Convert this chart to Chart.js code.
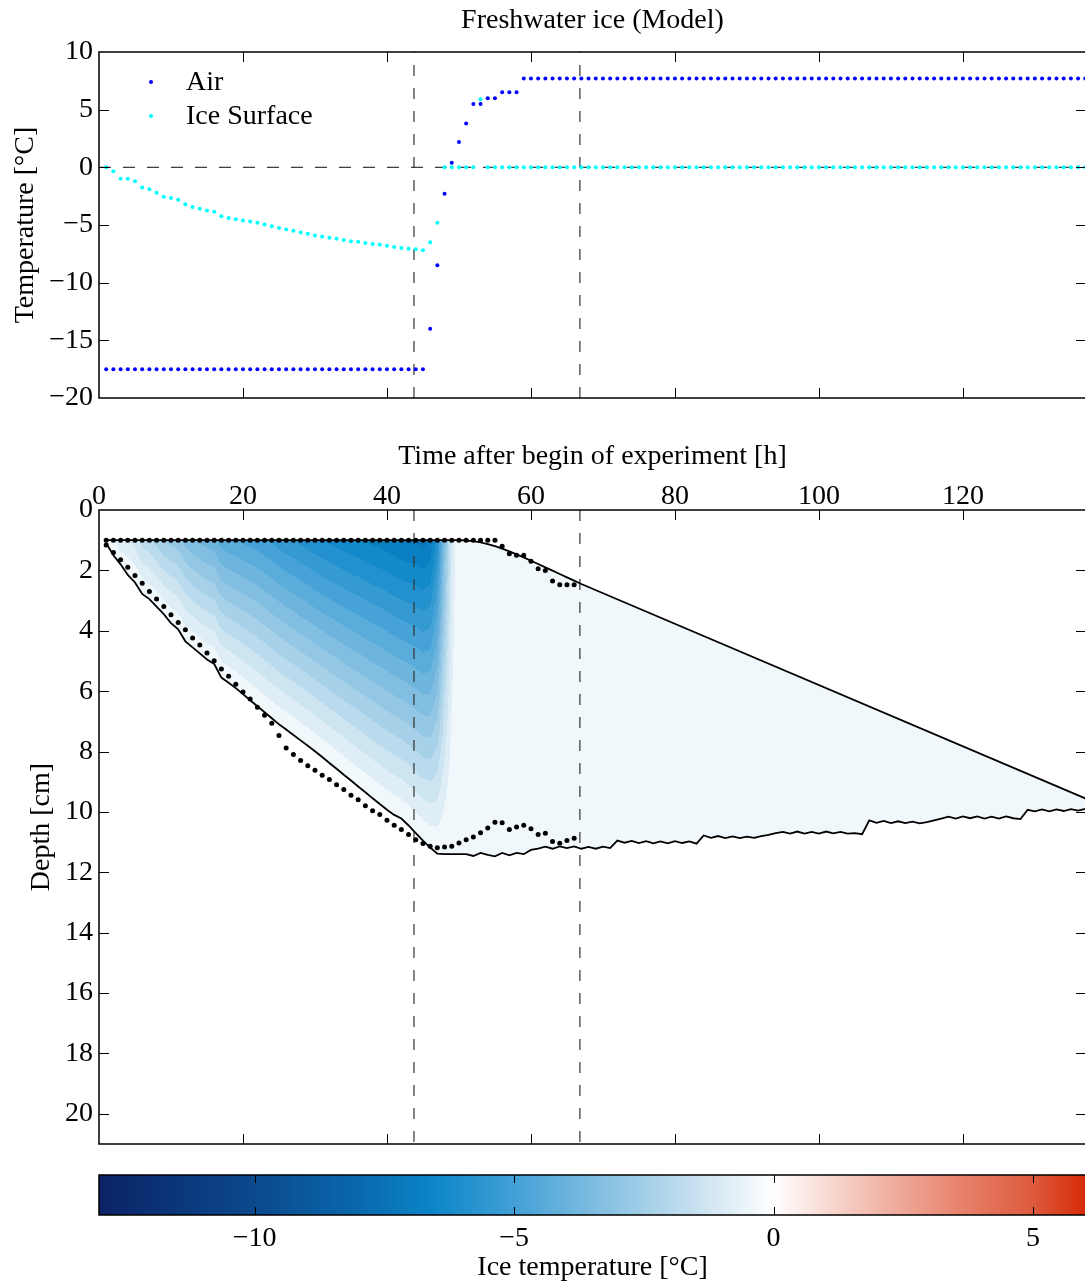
<!DOCTYPE html>
<html>
<head>
<meta charset="utf-8">
<title>Freshwater ice (Model)</title>
<script src="https://cdn.jsdelivr.net/npm/chart.js@4.4.1/dist/chart.umd.min.js"></script>
<style>
  body { margin: 0; background: #fff; }
  #wrap { position: relative; width: 1085px; height: 1284px; overflow: hidden; }
  #wrap canvas { position: absolute; left: 0; }
</style>
</head>
<body>
<div id="wrap">
  <canvas id="surface" width="1090" height="420" style="top:0"></canvas>
  <canvas id="profile" width="1090" height="740" style="top:420px"></canvas>
  <canvas id="scale" width="1090" height="124" style="top:1160px"></canvas>
</div>
<script>
// hourly samples, first one at t = 1 h
const airTemp = [
  -17.5, -17.5, -17.5, -17.5, -17.5, -17.5, -17.5, -17.5, -17.5, -17.5,
  -17.5, -17.5, -17.5, -17.5, -17.5, -17.5, -17.5, -17.5, -17.5, -17.5,
  -17.5, -17.5, -17.5, -17.5, -17.5, -17.5, -17.5, -17.5, -17.5, -17.5,
  -17.5, -17.5, -17.5, -17.5, -17.5, -17.5, -17.5, -17.5, -17.5, -17.5,
  -17.5, -17.5, -17.5, -17.5, -17.5, -14.0, -8.5, -2.3, 0.4, 2.2,
  3.8, 5.5, 5.5, 6.0, 6.0, 6.5, 6.5, 6.5, 7.7, 7.7,
  7.7, 7.7, 7.7, 7.7, 7.7, 7.7, 7.7, 7.7, 7.7, 7.7,
  7.7, 7.7, 7.7, 7.7, 7.7, 7.7, 7.7, 7.7, 7.7, 7.7,
  7.7, 7.7, 7.7, 7.7, 7.7, 7.7, 7.7, 7.7, 7.7, 7.7,
  7.7, 7.7, 7.7, 7.7, 7.7, 7.7, 7.7, 7.7, 7.7, 7.7,
  7.7, 7.7, 7.7, 7.7, 7.7, 7.7, 7.7, 7.7, 7.7, 7.7,
  7.7, 7.7, 7.7, 7.7, 7.7, 7.7, 7.7, 7.7, 7.7, 7.7,
  7.7, 7.7, 7.7, 7.7, 7.7, 7.7, 7.7, 7.7, 7.7, 7.7,
  7.7, 7.7, 7.7, 7.7, 7.7, 7.7, 7.7
];

const surfaceTemp = [
  0.0, -0.35, -1.0, -1.0, -1.2, -1.75, -1.9, -2.2, -2.55, -2.65,
  -2.8, -3.2, -3.45, -3.6, -3.75, -3.85, -4.25, -4.4, -4.5, -4.6,
  -4.7, -4.8, -4.95, -5.1, -5.25, -5.4, -5.5, -5.65, -5.75, -5.9,
  -6.0, -6.1, -6.2, -6.3, -6.4, -6.45, -6.55, -6.65, -6.7, -6.8,
  -6.9, -7.0, -7.05, -7.1, -7.2, -6.5, -4.8, 0, 0, 0,
  0, 0, 5.9, 0, 0, 0, 0, 0, 0, 0,
  0, 0, 0, 0, 0, 0, 0, 0, 0, 0,
  0, 0, 0, 0, 0, 0, 0, 0, 0, 0,
  0, 0, 0, 0, 0, 0, 0, 0, 0, 0,
  0, 0, 0, 0, 0, 0, 0, 0, 0, 0,
  0, 0, 0, 0, 0, 0, 0, 0, 0, 0,
  0, 0, 0, 0, 0, 0, 0, 0, 0, 0,
  0, 0, 0, 0, 0, 0, 0, 0, 0, 0,
  0, 0, 0, 0, 0, 0, 0
];

// temperature of the uppermost ice layer while it warms to melting
const meltTime = [45, 46, 47, 48, 49, 50];
const meltTopTemp = [-7.2, -7.0, -5.8, -3.2, -1.0, 0];

// modelled ice surface (breakpoints) and ice bottom (hourly), depth in cm
const modelTopTime = [1, 50, 51, 52, 53, 54, 55, 56, 57, 58, 59, 60, 61, 62, 63, 64, 65, 66, 67, 137];
const modelTopDepth = [1.0, 1.0, 1.01, 1.03, 1.07, 1.13, 1.2, 1.28, 1.37, 1.47, 1.57, 1.68, 1.79, 1.9, 2.01, 2.12, 2.23, 2.34, 2.45, 9.55];

const modelBottomDepth = [
  1.1, 1.5, 1.8, 2.15, 2.4, 2.78, 2.95, 3.2, 3.45, 3.75,
  3.95, 4.35, 4.55, 4.75, 4.95, 5.1, 5.55, 5.72, 5.9, 6.1,
  6.3, 6.5, 6.7, 6.9, 7.1, 7.27, 7.45, 7.63, 7.81, 7.99,
  8.18, 8.38, 8.57, 8.77, 8.96, 9.16, 9.35, 9.55, 9.74, 9.93,
  10.1, 10.22, 10.45, 10.7, 10.95, 11.18, 11.38, 11.4, 11.4, 11.4,
  11.4, 11.46, 11.36, 11.42, 11.47, 11.36, 11.44, 11.36, 11.4, 11.26,
  11.22, 11.15, 11.22, 11.14, 11.2, 11.14, 11.22, 11.16, 11.22, 11.15,
  11.2, 10.95, 11.02, 10.96, 11.03, 10.97, 11.04, 10.98, 11.04, 10.97,
  11.03, 10.98, 11.05, 10.78, 10.86, 10.8, 10.87, 10.81, 10.87, 10.82,
  10.86, 10.8, 10.76, 10.7, 10.66, 10.72, 10.65, 10.72, 10.66, 10.72,
  10.65, 10.71, 10.66, 10.72, 10.7, 10.74, 10.28, 10.36, 10.3, 10.37,
  10.31, 10.37, 10.32, 10.38, 10.34, 10.28, 10.22, 10.16, 10.22, 10.15,
  10.21, 10.15, 10.22, 10.16, 10.22, 10.15, 10.21, 10.24, 9.93, 9.98,
  9.92, 9.98, 9.92, 9.97, 9.91, 9.96, 9.9
];

// measured ice surface and ice bottom, hourly from t = 1 h
const obsTopDepth = [
  1.0, 1.0, 1.0, 1.0, 1.0, 1.0, 1.0, 1.0, 1.0, 1.0,
  1.0, 1.0, 1.0, 1.0, 1.0, 1.0, 1.0, 1.0, 1.0, 1.0,
  1.0, 1.0, 1.0, 1.0, 1.0, 1.0, 1.0, 1.0, 1.0, 1.0,
  1.0, 1.0, 1.0, 1.0, 1.0, 1.0, 1.0, 1.0, 1.0, 1.0,
  1.0, 1.0, 1.0, 1.0, 1.0, 1.0, 1.0, 1.0, 1.0, 1.0,
  1.0, 1.0, 1.0, 1.0, 1.0, 1.2, 1.45, 1.5, 1.5, 1.7,
  1.95, 2.0, 2.35, 2.48, 2.48, 2.48
];
const obsBottomDepth = [
  1.16, 1.41, 1.65, 1.9, 2.17, 2.43, 2.7, 2.95, 3.2, 3.47,
  3.73, 3.97, 4.24, 4.47, 4.74, 4.99, 5.27, 5.51, 5.77, 6.03,
  6.26, 6.53, 6.8, 7.06, 7.47, 7.88, 8.1, 8.3, 8.47, 8.62,
  8.79, 8.93, 9.1, 9.26, 9.45, 9.6, 9.8, 9.96, 10.09, 10.28,
  10.44, 10.58, 10.75, 10.92, 11.05, 11.14, 11.19, 11.16, 11.14, 11.03,
  10.92, 10.83, 10.69, 10.53, 10.34, 10.36, 10.58, 10.5, 10.44, 10.56,
  10.75, 10.71, 10.98, 11.04, 10.95, 10.87
];

const markerTimes = [43.75, 66.8];

const timeTicks = [0, 20, 40, 60, 80, 100, 120];
const tempTicks = [-20, -15, -10, -5, 0, 5, 10];
const depthTicks = [0, 2, 4, 6, 8, 10, 12, 14, 16, 18, 20];
const colorTicks = [-10, -5, 0, 5];

// colour map for ice temperature
const cmapValues = [-13, -10, -8, -6.6, -5, -3, -1.5, 0, 1.5, 3.5, 5, 6.02];
const cmapColors = [
  [11, 35, 102], [11, 73, 141], [10, 104, 173], [10, 133, 199], [66, 160, 214], [143, 197, 227],
  [200, 225, 240], [255, 255, 255], [245, 200, 190], [232, 133, 112], [221, 90, 60], [214, 42, 8]
];
const levelStep = 0.5;

const serif = "'Liberation Serif', 'Times New Roman', serif";
Chart.defaults.font.family = serif;
Chart.defaults.font.size = 28;
Chart.defaults.color = '#000';

const fmt = v => (v < 0 ? '\u2212' + Math.abs(v) : String(v));
const asTicks = list => s => { s.ticks = list.map(v => ({ value: v })); };
const hourly = arr => arr.map((v, i) => ({ x: i + 1, y: v }));

function colorAt(v) {
  if (v <= cmapValues[0]) return cmapColors[0];
  for (let i = 1; i < cmapValues.length; i++) {
    if (v <= cmapValues[i]) {
      const f = (v - cmapValues[i - 1]) / (cmapValues[i] - cmapValues[i - 1]);
      const a = cmapColors[i - 1], b = cmapColors[i];
      return [0, 1, 2].map(k => Math.round(a[k] + (b[k] - a[k]) * f));
    }
  }
  return cmapColors[cmapColors.length - 1];
}

function interpHourly(arr, t) {
  const i = Math.min(Math.max(t - 1, 0), arr.length - 1);
  const i0 = Math.min(Math.floor(i), arr.length - 2);
  const f = i - i0;
  return arr[i0] * (1 - f) + arr[i0 + 1] * f;
}

function interpXY(xs, ys, t) {
  if (t <= xs[0]) return ys[0];
  for (let i = 1; i < xs.length; i++) {
    if (t <= xs[i]) return ys[i - 1] + (ys[i] - ys[i - 1]) * (t - xs[i - 1]) / (xs[i] - xs[i - 1]);
  }
  return ys[ys.length - 1];
}

function topLayerTemp(t) {
  return t < meltTime[0] ? interpHourly(surfaceTemp, t) : interpXY(meltTime, meltTopTemp, t);
}

// frame with inward tick marks on all four sides
const frameTicks = {
  id: 'frameTicks',
  afterDatasetsDraw(chart, args, opts) {
    const { ctx, chartArea: a } = chart;
    const len = opts.len || 10;
    ctx.save();
    ctx.strokeStyle = '#000';
    ctx.lineWidth = 1;
    ctx.beginPath();
    if (opts.x) {
      const s = chart.scales.x;
      s.ticks.forEach(t => {
        const p = Math.round(s.getPixelForValue(t.value)) + 0.5;
        if (p <= a.left + 1 || p >= a.right - 1) return;
        ctx.moveTo(p, a.top); ctx.lineTo(p, a.top + len);
        ctx.moveTo(p, a.bottom); ctx.lineTo(p, a.bottom - len);
      });
    }
    if (opts.y) {
      const s = chart.scales.y;
      s.ticks.forEach(t => {
        const p = Math.round(s.getPixelForValue(t.value)) + 0.5;
        if (p <= a.top + 1 || p >= a.bottom - 1) return;
        ctx.moveTo(a.left, p); ctx.lineTo(a.left + len, p);
        ctx.moveTo(a.right, p); ctx.lineTo(a.right - len, p);
      });
    }
    ctx.stroke();
    ctx.lineWidth = 1.5;
    ctx.strokeRect(a.left, a.top, a.right - a.left, a.bottom - a.top);
    ctx.restore();
  }
};

// legend inside the upper panel
const insetLegend = {
  id: 'insetLegend',
  afterDatasetsDraw(chart) {
    const { ctx, chartArea: a } = chart;
    ctx.save();
    ctx.font = '28px ' + serif;
    ctx.textBaseline = 'middle';
    chart.data.datasets.filter(d => d.inLegend).forEach((d, k) => {
      const yy = a.top + 30 + k * 34;
      ctx.fillStyle = d.backgroundColor;
      ctx.beginPath();
      ctx.arc(a.left + 52, yy, 2, 0, 2 * Math.PI);
      ctx.fill();
      ctx.fillStyle = '#000';
      ctx.fillText(d.label, a.left + 87, yy + 1);
    });
    ctx.restore();
  }
};

// filled temperature contours between modelled surface and bottom
const iceField = {
  id: 'iceField',
  beforeDatasetsDraw(chart) {
    const { ctx, chartArea: a, scales: { x, y } } = chart;
    const w = Math.round(a.right - a.left), h = Math.round(a.bottom - a.top);
    const off = document.createElement('canvas');
    off.width = w; off.height = h;
    const octx = off.getContext('2d');
    const img = octx.createImageData(w, h);
    const last = surfaceTemp.length;
    for (let i = 0; i < w; i++) {
      const t = x.getValueForPixel(a.left + i + 0.5);
      if (t < 1 || t > last) continue;
      const top = interpXY(modelTopTime, modelTopDepth, t);
      const bot = interpHourly(modelBottomDepth, t);
      const ts = Math.min(topLayerTemp(t), 0);
      for (let j = 0; j < h; j++) {
        const z = y.getValueForPixel(a.top + j + 0.5);
        if (z < top || z > bot) continue;
        const T = ts * (bot - z) / (bot - top);
        const band = Math.ceil(T / levelStep - 1e-9);
        const c = colorAt((band - 0.75) * levelStep);
        const k = (j * w + i) * 4;
        img.data[k] = c[0]; img.data[k + 1] = c[1]; img.data[k + 2] = c[2]; img.data[k + 3] = 255;
      }
    }
    octx.putImageData(img, 0, 0);
    ctx.drawImage(off, a.left, a.top);
  }
};

// continuous colour bar
const colorBar = {
  id: 'colorBar',
  beforeDatasetsDraw(chart) {
    const { ctx, chartArea: a, scales: { x } } = chart;
    for (let px = Math.floor(a.left); px < a.right; px++) {
      const c = colorAt(x.getValueForPixel(px + 0.5));
      ctx.fillStyle = `rgb(${c[0]},${c[1]},${c[2]})`;
      ctx.fillRect(px, a.top, 1, a.bottom - a.top);
    }
  }
};

const dashed = (data, dash) => ({
  data, showLine: true, pointRadius: 0, borderColor: '#333', borderWidth: 1.2, borderDash: dash
});
const plain = { grid: { display: false, drawTicks: false }, border: { display: false } };
const noEdgePad = s => { s.paddingTop = 0; s.paddingBottom = 0; };

new Chart(document.getElementById('surface'), {
  type: 'scatter',
  data: {
    datasets: [
      { label: 'Air', inLegend: true, data: hourly(airTemp), backgroundColor: '#0000ff', pointRadius: 2, borderWidth: 0 },
      { label: 'Ice Surface', inLegend: true, data: hourly(surfaceTemp), backgroundColor: '#00ffff', pointRadius: 2, borderWidth: 0 },
      dashed([{ x: 0, y: 0 }, { x: 137.1, y: 0 }], [12, 12]),
      ...markerTimes.map(t => dashed([{ x: t, y: -20 }, { x: t, y: 10 }], [11, 12]))
    ]
  },
  plugins: [frameTicks, insetLegend],
  options: {
    responsive: false, animation: false, events: [], devicePixelRatio: 1,
    layout: { padding: { top: 0, left: 0, right: 4, bottom: 22 } },
    plugins: {
      legend: { display: false }, tooltip: { enabled: false },
      title: { display: true, text: 'Freshwater ice (Model)', fullSize: false, color: '#000',
        font: { size: 28, weight: 'normal' }, padding: { top: 4, bottom: 14.4 } },
      frameTicks: { x: true, y: true, len: 10 }
    },
    scales: {
      x: { ...plain, type: 'linear', min: 0, max: 137.1, ticks: { display: false },
        afterBuildTicks: asTicks(timeTicks), afterFit: s => { s.height = 0; } },
      y: { ...plain, min: -20, max: 10,
        ticks: { padding: 6, autoSkip: false, callback: v => fmt(v) },
        afterBuildTicks: asTicks(tempTicks), afterFit: s => { s.width = 99; noEdgePad(s); },
        title: { display: true, text: 'Temperature [°C]', padding: { top: 9, bottom: 0 } } }
    }
  }
});

new Chart(document.getElementById('profile'), {
  type: 'scatter',
  data: {
    datasets: [
      { data: hourly(obsTopDepth), backgroundColor: '#000', pointRadius: 2.5, borderWidth: 0 },
      { data: hourly(obsBottomDepth), backgroundColor: '#000', pointRadius: 2.5, borderWidth: 0 },
      { data: modelTopTime.map((t, i) => ({ x: t, y: modelTopDepth[i] })), showLine: true, pointRadius: 0, borderColor: '#000', borderWidth: 1.8 },
      { data: hourly(modelBottomDepth), showLine: true, pointRadius: 0, borderColor: '#000', borderWidth: 1.8 },
      ...markerTimes.map(t => dashed([{ x: t, y: 0 }, { x: t, y: 21 }], [11, 12]))
    ]
  },
  plugins: [iceField, frameTicks],
  options: {
    responsive: false, animation: false, events: [], devicePixelRatio: 1,
    layout: { padding: { top: 0, left: 0, right: 4, bottom: 16 } },
    plugins: { legend: { display: false }, tooltip: { enabled: false }, frameTicks: { x: true, y: true, len: 10 } },
    scales: {
      x: { ...plain, type: 'linear', position: 'top', min: 0, max: 137.1,
        ticks: { padding: -3, maxRotation: 0, autoSkip: false },
        afterBuildTicks: asTicks(timeTicks), afterFit: s => { s.height = 90; },
        title: { display: true, text: 'Time after begin of experiment [h]', padding: { top: 20, bottom: 0 } } },
      y: { ...plain, reverse: true, min: 0, max: 21,
        ticks: { padding: 6, autoSkip: false },
        afterBuildTicks: asTicks(depthTicks), afterFit: s => { s.width = 99; noEdgePad(s); },
        title: { display: true, text: 'Depth [cm]', padding: { top: 25, bottom: 0 } } }
    }
  }
});

new Chart(document.getElementById('scale'), {
  type: 'scatter',
  data: { datasets: [] },
  plugins: [colorBar, frameTicks],
  options: {
    responsive: false, animation: false, events: [], devicePixelRatio: 1,
    layout: { padding: { top: 15, left: 99, right: 4, bottom: 0 } },
    plugins: { legend: { display: false }, tooltip: { enabled: false }, frameTicks: { x: true, len: 8 } },
    scales: {
      x: { ...plain, type: 'linear', min: -13, max: 6.02,
        ticks: { padding: 7, maxRotation: 0, autoSkip: false, callback: v => fmt(v) },
        afterBuildTicks: asTicks(colorTicks), afterFit: s => { s.height = 69; },
        title: { display: true, text: 'Ice temperature [°C]', padding: { top: 0, bottom: 0 } } },
      y: { display: false, min: 0, max: 1 }
    }
  }
});
</script>
</body>
</html>
